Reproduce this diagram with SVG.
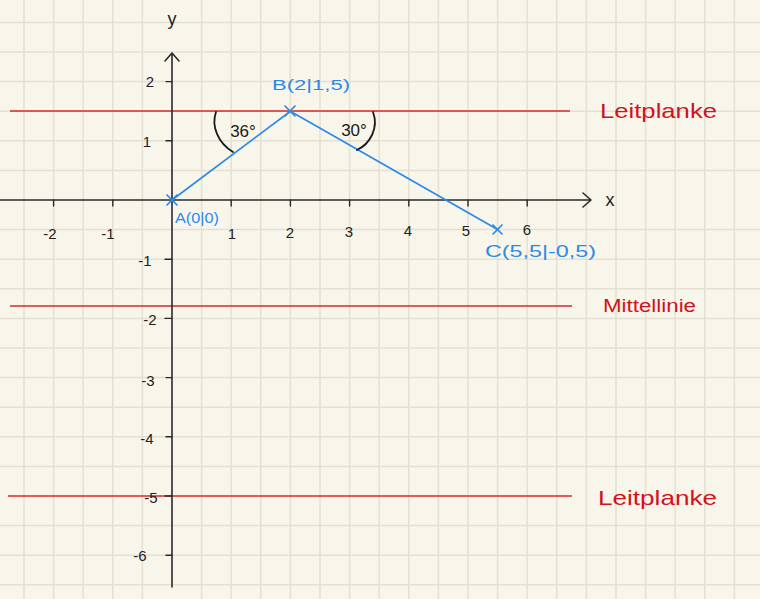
<svg xmlns="http://www.w3.org/2000/svg" width="760" height="599" viewBox="0 0 760 599">
<style>
.grid{stroke:#e4e0d2;stroke-width:1.5;fill:none}
.axis{stroke:#2a2a2a;stroke-width:1.6;fill:none;stroke-linecap:round;stroke-linejoin:round}
.tick{stroke:#2a2a2a;stroke-width:1.4;fill:none;stroke-linecap:round}
.num{font-family:"Liberation Sans",Arial,sans-serif;font-size:15px;fill:#222;text-anchor:middle}
.red{stroke:#d42a2a;stroke-width:1.6;fill:none}
.redt{font-family:"Liberation Sans",Arial,sans-serif;font-size:21px;fill:#d2121c}
.blue{stroke:#2a8ae8;stroke-width:1.7;fill:none;stroke-linecap:round}
.bluet{font-family:"Liberation Sans",Arial,sans-serif;font-size:14px;fill:#2a8ae8}
.arc{stroke:#1a1a1a;stroke-width:1.8;fill:none;stroke-linecap:round}
.ang{font-family:"Liberation Sans",Arial,sans-serif;font-size:17px;fill:#1a1a1a;text-anchor:middle}
</style>
<rect width="760" height="599" fill="#f8f5ea"/>
<g id="grid" class="grid">
<path d="M24 0V599M53.6 0V599M83.2 0V599M112.8 0V599M142.4 0V599M201.6 0V599M231.2 0V599M260.8 0V599M290.4 0V599M320 0V599M349.6 0V599M379.2 0V599M408.8 0V599M438.4 0V599M468 0V599M497.6 0V599M527.2 0V599M556.8 0V599M586.4 0V599M616 0V599M645.6 0V599M675.2 0V599M704.8 0V599M734.4 0V599"/>
<path d="M0 22.4H760M0 52H760M0 81.6H760M0 111.2H760M0 140.8H760M0 170.4H760M0 229.6H760M0 259.2H760M0 288.8H760M0 318.4H760M0 348H760M0 377.6H760M0 407.2H760M0 436.8H760M0 466.4H760M0 525.6H760M0 555.2H760M0 584.8H760"/>
</g>
<g id="guardrail-top">
<line class="red" x1="10" y1="111" x2="570" y2="111"/>
<text class="redt" x="600" y="118" textLength="117" lengthAdjust="spacingAndGlyphs">Leitplanke</text>
</g>
<g id="centerline">
<line class="red" x1="10" y1="306" x2="572" y2="306"/>
<text class="redt" x="603" y="312" style="font-size:18px" textLength="93" lengthAdjust="spacingAndGlyphs">Mittellinie</text>
</g>
<g id="guardrail-bottom">
<line class="red" x1="8" y1="496" x2="572" y2="496"/>
<text class="redt" x="598" y="505" textLength="119" lengthAdjust="spacingAndGlyphs">Leitplanke</text>
</g>
<g id="axes">
<path class="axis" d="M0 200H591M583 193L591 200L583 207"/>
<path class="axis" d="M172 587V53M165 61L172 53L179 61"/>
<text class="num" x="610" y="206" style="font-size:18px">x</text>
<text class="num" x="172" y="25" style="font-size:18px">y</text>
<path class="tick" d="M53.6 200v6M112.8 200v6M231.2 200v6M290.4 200v6M349.6 200v6M408.8 200v6M468 200v6M527.2 200v6"/>
<path class="tick" d="M166 81.6h6M166 140.8h6M165 259.2h7M165 318.4h7M166 377.6h6M166 436.8h6M165 496h7M166 555.2h6"/>
<text class="num" x="50" y="239">-2</text>
<text class="num" x="108" y="239">-1</text>
<text class="num" x="232" y="239">1</text>
<text class="num" x="290" y="238">2</text>
<text class="num" x="349" y="237">3</text>
<text class="num" x="408" y="236">4</text>
<text class="num" x="466" y="236">5</text>
<text class="num" x="527" y="235">6</text>
<text class="num" x="150" y="87">2</text>
<text class="num" x="147" y="147">1</text>
<text class="num" x="145" y="266">-1</text>
<text class="num" x="150" y="325">-2</text>
<text class="num" x="148" y="386">-3</text>
<text class="num" x="147" y="444">-4</text>
<text class="num" x="151" y="503">-5</text>
<text class="num" x="140" y="561">-6</text>
</g>
<g id="path-lines">
<polyline class="blue" points="172,200 290.4,111.2 497.6,229.6"/>
</g>
<g id="point-A">
<path class="blue" d="M167 195l10 10M177 195l-10 10"/>
<text class="bluet" x="175" y="223" textLength="44" lengthAdjust="spacingAndGlyphs">A(0|0)</text>
</g>
<g id="point-B">
<path class="blue" d="M285 106l10 10M295 106l-10 10"/>
<text class="bluet" x="272" y="90" style="font-size:15px" textLength="78" lengthAdjust="spacingAndGlyphs">B(2|1,5)</text>
</g>
<g id="point-C">
<path class="blue" d="M493 225l9 9M502 225l-9 9"/>
<text class="bluet" x="485" y="257" style="font-size:16px" textLength="111" lengthAdjust="spacingAndGlyphs">C(5,5|-0,5)</text>
</g>
<g id="angle-36">
<path class="arc" d="M216 112C211 126 218 143 233 152"/>
<text class="ang" x="243" y="137">36°</text>
</g>
<g id="angle-30">
<path class="arc" d="M373 112C379 128 370 144 357 150"/>
<text class="ang" x="354" y="136">30°</text>
</g>
</svg>
